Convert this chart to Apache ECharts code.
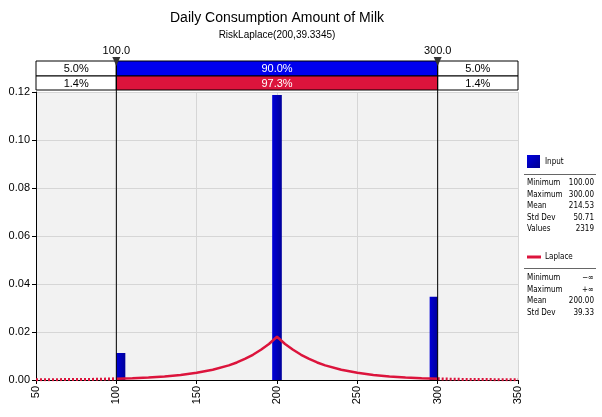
<!DOCTYPE html>
<html><head><meta charset="utf-8">
<script src="https://cdn.jsdelivr.net/npm/echarts@6/dist/echarts.min.js"></script>
<style>html,body{margin:0;padding:0;background:#fff}#c{width:602px;height:417px}</style>
</head><body><div id="c"></div>
<script>
// ---- data ----
const titleText = 'Daily Consumption Amount of Milk';
const subtitleText = 'RiskLaplace(200,39.3345)';
const xTicks = [50, 100, 150, 200, 250, 300, 350];
const yTicks = [0, 0.02, 0.04, 0.06, 0.08, 0.10, 0.12];
// histogram bins (start, end, density)
const binStart = [100, 197, 295];
const binEnd = [105.6, 203, 300];
const binDensity = [0.0113, 0.1187, 0.0347];
// fitted Laplace curve
const curveX = [50, 60, 70, 80, 90, 100, 110, 120, 130, 140, 150, 160, 170, 175, 180, 185, 190, 195, 200,
                205, 210, 215, 220, 225, 230, 240, 250, 260, 270, 280, 290, 300, 310, 320, 330, 340, 350];
const curveY = [0.0001, 0.0001, 0.0002, 0.0002, 0.0003, 0.0005, 0.0007, 0.0010, 0.0015, 0.0021, 0.0030, 0.0043, 0.0061, 0.0073, 0.0088, 0.0105, 0.0126, 0.0150, 0.0180,
                0.0150, 0.0126, 0.0105, 0.0088, 0.0073, 0.0061, 0.0043, 0.0030, 0.0021, 0.0015, 0.0010, 0.0007, 0.0005, 0.0003, 0.0002, 0.0002, 0.0001, 0.0001];
// delimiters and percentages
const leftMark = 100.0, rightMark = 300.0;
const inputPct = ['5.0%', '90.0%', '5.0%'];
const fitPct = ['1.4%', '97.3%', '1.4%'];
// legend statistics
const inputStatsLabels = ['Minimum', 'Maximum', 'Mean', 'Std Dev', 'Values'];
const inputStatsValues = ['100.00', '300.00', '214.53', '50.71', '2319'];
const fitStatsLabels = ['Minimum', 'Maximum', 'Mean', 'Std Dev'];
const fitStatsValues = ['\u2212\u221e', '+\u221e', '200.00', '39.33'];

const FONT = 'Liberation Sans';
const NARROW = '"Liberation Sans Narrow", "DejaVu Sans Condensed", "Liberation Sans", sans-serif';
const RED = '#dc143c';

const pts = curveX.map((x, i) => [x, curveY[i]]);
const leftTail = pts.filter(p => p[0] <= leftMark);
const mid = pts.filter(p => p[0] >= leftMark && p[0] <= rightMark);
const rightTail = pts.filter(p => p[0] >= rightMark);

const chart = echarts.init(document.getElementById('c'));
const option = {
  animation: false,
  backgroundColor: '#fff',
  grid: {left: 36, right: 84, top: 92, bottom: 37, show: true, backgroundColor: '#f2f2f2', borderWidth: 0},
  xAxis: {
    type: 'value', min: 50, max: 350, interval: 50,
    axisLine: {show: true, onZero: false, lineStyle: {color: '#000', width: 1}},
    axisTick: {show: true, length: 4, lineStyle: {color: '#000'}},
    axisLabel: {rotate: 90, fontFamily: FONT, fontSize: 11, color: '#000', margin: 6},
    splitLine: {show: true, lineStyle: {color: '#d6d6d6'}}
  },
  yAxis: {
    type: 'value', min: 0, max: 0.12, interval: 0.02,
    axisLine: {show: true, lineStyle: {color: '#000', width: 1}},
    axisTick: {show: true, length: 4, lineStyle: {color: '#000'}},
    axisLabel: {fontFamily: FONT, fontSize: 11, color: '#000', margin: 6, formatter: v => v.toFixed(2)},
    splitLine: {show: true, lineStyle: {color: '#d6d6d6'}}
  },
  series: [
    {
      type: 'custom', name: 'Input', z: 2,
      data: binStart.map((s, i) => [s, binEnd[i], binDensity[i]]),
      renderItem: function (params, api) {
        const p0 = api.coord([api.value(0), api.value(2)]);
        const p1 = api.coord([api.value(1), 0]);
        return {type: 'rect', shape: {x: p0[0], y: p0[1], width: p1[0] - p0[0], height: p1[1] - p0[1]},
          style: {fill: new echarts.graphic.LinearGradient(0, 0, 1, 0, [{offset: 0, color: '#0000d8'}, {offset: 1, color: '#00009a'}])}};
      }
    },
    {type: 'line', data: leftTail, showSymbol: false, symbol: 'none', z: 3,
      lineStyle: {color: RED, width: 3, type: [2, 2]}},
    {type: 'line', data: mid, showSymbol: false, symbol: 'none', z: 3,
      lineStyle: {color: RED, width: 2.5}},
    {type: 'line', data: rightTail, showSymbol: false, symbol: 'none', z: 3,
      lineStyle: {color: RED, width: 3, type: [2, 2]}}
  ]
};
chart.setOption(option);

// ---- overlays positioned through the axis scales ----
const px = x => chart.convertToPixel({gridIndex: 0}, [x, 0])[0];
const py = y => chart.convertToPixel({gridIndex: 0}, [50, y])[1];
const xL = px(50), xA = px(leftMark), xB = px(rightMark), xR = px(350);
const yTop = py(0.12), yBot = py(0);
const r1 = yTop - 31, r2 = yTop - 16, rh = 15;
const g = [];
const cx = (xL + xR) / 2;
g.push({type: 'text', x: cx, y: 18, style: {text: titleText, fill: '#000', font: '14px "' + FONT + '"', textAlign: 'center', textVerticalAlign: 'middle'}});
g.push({type: 'text', x: cx, y: 35, style: {text: subtitleText, fill: '#000', font: '10px "' + FONT + '"', textAlign: 'center', textVerticalAlign: 'middle'}});
function cell(x0, x1, y, h, fill, txt, tc) {
  g.push({type: 'rect', shape: {x: x0, y: y, width: x1 - x0, height: h}, style: {fill: fill, stroke: '#000', lineWidth: 1}, z: 10});
  g.push({type: 'text', x: (x0 + x1) / 2, y: y + h / 2 + 0.5, style: {text: txt, fill: tc, font: '11px "' + FONT + '"', textAlign: 'center', textVerticalAlign: 'middle'}, z: 11});
}
cell(xL, xA, r1, rh, '#fff', inputPct[0], '#000');
cell(xA, xB, r1, rh, '#0000ee', inputPct[1], '#fff');
cell(xB, xR, r1, rh, '#fff', inputPct[2], '#000');
cell(xL, xA, r2, rh - 1, '#fff', fitPct[0], '#000');
cell(xA, xB, r2, rh - 1, RED, fitPct[1], '#fff');
cell(xB, xR, r2, rh - 1, '#fff', fitPct[2], '#000');
[[xA, leftMark], [xB, rightMark]].forEach(([x, v]) => {
  g.push({type: 'line', shape: {x1: x, y1: r1, x2: x, y2: yBot}, style: {stroke: '#000', lineWidth: 1}, z: 12});
  g.push({type: 'polygon', shape: {points: [[x - 4, r1 - 4], [x + 4, r1 - 4], [x, r1 + 5]]}, style: {fill: '#333'}, z: 13});
  g.push({type: 'text', x: x, y: r1 - 10, style: {text: v.toFixed(1), fill: '#000', font: '11px "' + FONT + '"', textAlign: 'center', textVerticalAlign: 'middle'}, z: 13});
});
// legend
const lx = xR + 9, rx = 594, sf = '8px ' + NARROW;
g.push({type: 'rect', shape: {x: lx, y: 155, width: 13, height: 13},
  style: {fill: new echarts.graphic.LinearGradient(0, 0, 1, 1, [{offset: 0, color: '#0000e0'}, {offset: 1, color: '#000090'}])}});
g.push({type: 'text', x: lx + 18, y: 161.5, style: {text: 'Input', fill: '#000', font: sf, textVerticalAlign: 'middle'}});
g.push({type: 'line', shape: {x1: lx - 3, y1: 174.5, x2: 596, y2: 174.5}, style: {stroke: '#666', lineWidth: 1}});
inputStatsLabels.forEach((t, i) => {
  const y = 183 + i * 11.6;
  g.push({type: 'text', x: lx, y: y, style: {text: t, fill: '#000', font: sf, textVerticalAlign: 'middle'}});
  g.push({type: 'text', x: rx, y: y, style: {text: inputStatsValues[i], fill: '#000', font: sf, textAlign: 'right', textVerticalAlign: 'middle'}});
});
g.push({type: 'line', shape: {x1: lx, y1: 257, x2: lx + 14, y2: 257}, style: {stroke: RED, lineWidth: 3}});
g.push({type: 'text', x: lx + 18, y: 257, style: {text: 'Laplace', fill: '#000', font: sf, textVerticalAlign: 'middle'}});
g.push({type: 'line', shape: {x1: lx - 3, y1: 268.5, x2: 596, y2: 268.5}, style: {stroke: '#666', lineWidth: 1}});
fitStatsLabels.forEach((t, i) => {
  const y = 278 + i * 11.6;
  g.push({type: 'text', x: lx, y: y, style: {text: t, fill: '#000', font: sf, textVerticalAlign: 'middle'}});
  g.push({type: 'text', x: rx, y: y, style: {text: fitStatsValues[i], fill: '#000', font: sf, textAlign: 'right', textVerticalAlign: 'middle'}});
});
chart.setOption({graphic: g});
</script></body></html>
